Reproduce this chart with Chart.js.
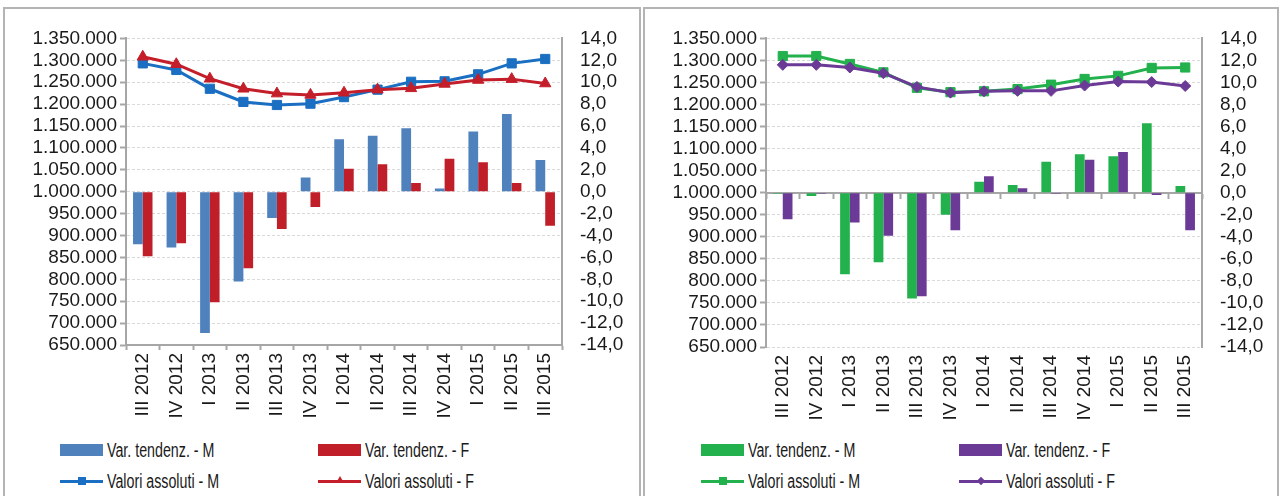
<!DOCTYPE html>
<html lang="it">
<head>
<meta charset="utf-8">
<title>Occupati per genere - variazioni tendenziali e valori assoluti</title>
<script src="https://cdn.jsdelivr.net/npm/chart.js@4.4.1/dist/chart.umd.min.js"></script>
<style>
  html, body { margin: 0; padding: 0; background: #fff; }
  body { position: relative; width: 1280px; height: 496px; overflow: hidden; font-family: 'Liberation Sans', Arial, sans-serif; }
  .panel { position: absolute; top: 7px; height: 520px; border: 2px solid #b4b4b4; box-sizing: border-box; }
  #panelL { left: 3px; width: 638px; }
  #panelR { left: 643px; width: 636px; }
  canvas { position: absolute; top: 9px; }
  #chartL { left: 5px; }
  #chartR { left: 646px; }
  .legend { position: absolute; top: 439px; width: 600px; height: 56px; font-family: 'Liberation Sans', Arial, sans-serif; font-size: 19.5px; color: #1a1a1a; }
  #legendL { left: 60px; }
  #legendR { left: 701px; }
  .legend-item { position: absolute; display: flex; align-items: center; height: 22px; white-space: nowrap; }
  /* il testo della legenda nell'originale e' piu' stretto */
  .legend-item .txt { display: inline-block; transform: scaleX(0.73); transform-origin: 0 50%; }
  .sym { position: relative; display: inline-block; width: 43px; height: 22px; margin-right: 4px; }
  .sym .bar { position: absolute; left: 0; top: 5px; width: 43px; height: 12px; }
  .sym .ln { position: absolute; left: 0; top: 10px; width: 43px; height: 3px; }
  .sym .mk { position: absolute; }
  .mk-rect { left: 18px; top: 7px; width: 8px; height: 8px; }
  .mk-rectRot { left: 19px; top: 8px; width: 6px; height: 6px; transform: rotate(45deg); }
  .mk-triangle { left: 18px; top: 6px; width: 0; height: 0; border-left: 4px solid transparent; border-right: 4px solid transparent; border-bottom: 7px solid var(--c); }
</style>
</head>
<body>
<div class="panel" id="panelL"></div>
<div class="panel" id="panelR"></div>
<canvas id="chartL" width="634" height="412"></canvas>
<canvas id="chartR" width="633" height="412"></canvas>
<div class="legend" id="legendL"></div>
<div class="legend" id="legendR"></div>

<script>
// Trimestri
const quarters = ['III 2012', 'IV 2012', 'I 2013', 'II 2013', 'III 2013', 'IV 2013',
                  'I 2014', 'II 2014', 'III 2014', 'IV 2014', 'I 2015', 'II 2015', 'III 2015'];

// Grafico di sinistra - valori assoluti (asse sx)
const absM_left = [1293000, 1278000, 1235000, 1205000, 1198000, 1201000, 1216000,
                   1233000, 1251000, 1252000, 1268000, 1293000, 1303000];
const absF_left = [1308000, 1291000, 1258000, 1235000, 1224000, 1221000, 1226000,
                   1233000, 1236000, 1246000, 1255000, 1257000, 1247000];
// Grafico di sinistra - variazioni tendenziali % (asse dx)
const varM_left = [-4.8, -5.1, -12.9, -8.2, -2.4, 1.3, 4.8, 5.1, 5.8, 0.3, 5.5, 7.1, 2.9];
const varF_left = [-5.9, -4.7, -10.1, -7.0, -3.4, -1.4, 2.1, 2.5, 0.8, 3.0, 2.7, 0.8, -3.1];

// Grafico di destra - valori assoluti (asse sx)
const absM_right = [1310000, 1310000, 1292000, 1273000, 1238000, 1228000, 1230000,
                    1235000, 1245000, 1258000, 1265000, 1283000, 1284000];
const absF_right = [1290000, 1290000, 1284000, 1271000, 1240000, 1227000, 1230000,
                    1231000, 1231000, 1243000, 1252000, 1251000, 1242000];
// Grafico di destra - variazioni tendenziali % (asse dx)
const varM_right = [-0.1, -0.3, -7.4, -6.3, -9.6, -2.0, 1.0, 0.7, 2.8, 3.5, 3.3, 6.3, 0.6];
const varF_right = [-2.4, -0.1, -2.7, -3.9, -9.4, -3.4, 1.5, 0.4, -0.1, 3.0, 3.7, -0.2, -3.4];

// Tacche degli assi
const absTicks = [650000, 700000, 750000, 800000, 850000, 900000, 950000, 1000000,
                  1050000, 1100000, 1150000, 1200000, 1250000, 1300000, 1350000];
const pctTicks = [-14, -12, -10, -8, -6, -4, -2, 0, 2, 4, 6, 8, 10, 12, 14];

const legendOrder = ['Var. tendenz. - M', 'Var. tendenz. - F', 'Valori assoluti - M', 'Valori assoluti - F'];

const axisGrey = '#a6a6a6';
const gridGrey = '#d9d9d9';
const textColor = '#1a1a1a';
const tickFont = { family: "'Liberation Sans', Arial, sans-serif", size: 19 };

// 1.350.000
function formatAbs(value) {
    return String(Math.round(value)).replace(/\B(?=(\d{3})+(?!\d))/g, '.');
}

// 14,0
function formatPct(value) {
    return value.toFixed(1).replace('.', ',');
}

function buildChart(canvasId, cfg) {
    const ctx = document.getElementById(canvasId).getContext('2d');

    const scales = {
        x: {
            offset: true,
            grid: {
                display: cfg.axisAtBottom,
                offset: true,
                drawOnChartArea: false,
                tickLength: 5,
                tickColor: axisGrey,
                tickWidth: 2
            },
            border: { display: cfg.axisAtBottom, color: axisGrey, width: 2 },
            ticks: {
                autoSkip: false,
                minRotation: 90,
                maxRotation: 90,
                padding: 3,
                color: textColor,
                font: tickFont
            },
            afterFit: function(scale) { scale.height = cfg.xHeight; }
        },
        y: {
            position: 'left',
            min: absTicks[0],
            max: absTicks[absTicks.length - 1],
            afterBuildTicks: function(scale) {
                scale.ticks = absTicks.map(v => ({ value: v }));
            },
            grid: {
                color: gridGrey,
                lineWidth: 1,
                tickLength: 6,
                tickColor: axisGrey,
                tickWidth: 2,
                tickBorderDash: []
            },
            border: { color: axisGrey, width: 2, dash: [3, 2] },
            ticks: {
                autoSkip: false,
                padding: 3,
                color: textColor,
                font: tickFont,
                callback: formatAbs
            },
            afterFit: function(scale) { scale.width = cfg.leftWidth; }
        },
        y1: {
            position: 'right',
            min: pctTicks[0],
            max: pctTicks[pctTicks.length - 1],
            afterBuildTicks: function(scale) {
                scale.ticks = pctTicks.map(v => ({ value: v }));
            },
            grid: { drawOnChartArea: false, drawTicks: false },
            border: { color: axisGrey, width: 2 },
            ticks: {
                autoSkip: false,
                padding: 18,
                color: textColor,
                font: tickFont,
                callback: formatPct
            },
            afterFit: function(scale) { scale.width = cfg.rightWidth; }
        }
    };

    // asse delle categorie che passa per lo zero (solo grafico di destra)
    if (!cfg.axisAtBottom) {
        scales.x2 = {
            type: 'category',
            position: { y1: 0 },
            offset: true,
            grid: {
                offset: true,
                drawOnChartArea: false,
                tickLength: 5,
                tickColor: axisGrey,
                tickWidth: 2
            },
            border: { color: axisGrey, width: 2 },
            ticks: { display: false }
        };
    }

    return new Chart(ctx, {
        type: 'bar',
        data: {
            labels: quarters,
            datasets: [
                {
                    type: 'line',
                    label: 'Valori assoluti - F',
                    data: cfg.absF,
                    yAxisID: 'y',
                    borderColor: cfg.lineF,
                    backgroundColor: cfg.lineF,
                    borderWidth: 3,
                    tension: 0,
                    pointStyle: cfg.pointF,
                    pointRadius: cfg.pointF === 'rectRot' ? 5.5 : 6.5,
                    pointBorderWidth: 1,
                    pointBackgroundColor: cfg.lineF,
                    pointBorderColor: cfg.lineF,
                    order: 0
                },
                {
                    type: 'line',
                    label: 'Valori assoluti - M',
                    data: cfg.absM,
                    yAxisID: 'y',
                    borderColor: cfg.lineM,
                    backgroundColor: cfg.lineM,
                    borderWidth: 3,
                    tension: 0,
                    pointStyle: 'rect',
                    pointRadius: 6.5,
                    pointBorderWidth: 1,
                    pointBackgroundColor: cfg.lineM,
                    pointBorderColor: cfg.lineM,
                    order: 1
                },
                {
                    label: 'Var. tendenz. - M',
                    data: cfg.varM,
                    yAxisID: 'y1',
                    backgroundColor: cfg.barM,
                    barPercentage: 1,
                    categoryPercentage: 0.58,
                    order: 2
                },
                {
                    label: 'Var. tendenz. - F',
                    data: cfg.varF,
                    yAxisID: 'y1',
                    backgroundColor: cfg.barF,
                    barPercentage: 1,
                    categoryPercentage: 0.58,
                    order: 2
                }
            ]
        },
        options: {
            responsive: false,
            animation: false,
            layout: { padding: { top: cfg.top, left: 0, right: 0, bottom: 0 } },
            plugins: {
                legend: { display: false },
                tooltip: { enabled: true }
            },
            scales: scales
        }
    });
}

// legenda html su due colonne, costruita dai dataset del grafico
function buildLegend(chart, legendId) {
    const box = document.getElementById(legendId);
    const items = chart.data.datasets.slice().sort(function(a, b) {
        return legendOrder.indexOf(a.label) - legendOrder.indexOf(b.label);
    });
    items.forEach(function(ds, i) {
        const item = document.createElement('div');
        item.className = 'legend-item';
        item.style.left = (i % 2 === 0 ? 0 : 258) + 'px';
        item.style.top = (i < 2 ? 0 : 31) + 'px';

        const sym = document.createElement('span');
        sym.className = 'sym';
        if (ds.type === 'line') {
            const c = ds.borderColor;
            const mkStyle = ds.pointStyle === 'triangle' ? '--c:' + c : 'background:' + c;
            sym.innerHTML = '<i class="ln" style="background:' + c + '"></i>' +
                            '<i class="mk mk-' + ds.pointStyle + '" style="' + mkStyle + '"></i>';
        } else {
            sym.innerHTML = '<i class="bar" style="background:' + ds.backgroundColor + '"></i>';
        }

        const label = document.createElement('span');
        label.className = 'txt';
        label.textContent = ds.label;

        item.appendChild(sym);
        item.appendChild(label);
        box.appendChild(item);
    });
}

document.addEventListener('DOMContentLoaded', function() {
    try {
        const chartL = buildChart('chartL', {
            absM: absM_left, absF: absF_left, varM: varM_left, varF: varF_left,
            lineM: '#1a6fc2', lineF: '#c41e2a', barM: '#4f81bd', barF: '#c01f29',
            pointF: 'triangle',
            axisAtBottom: true,
            top: 26, xHeight: 76, leftWidth: 121, rightWidth: 77
        });
        buildLegend(chartL, 'legendL');

        const chartR = buildChart('chartR', {
            absM: absM_right, absF: absF_right, varM: varM_right, varF: varF_right,
            lineM: '#22b14c', lineF: '#6b3a96', barM: '#22b14c', barF: '#6b3a96',
            pointF: 'rectRot',
            axisAtBottom: false,
            top: 27, xHeight: 74, leftWidth: 120, rightWidth: 77
        });
        buildLegend(chartR, 'legendR');
    } catch (error) {
        console.error('Errore nella creazione dei grafici:', error);
    }
});
</script>
</body>
</html>
